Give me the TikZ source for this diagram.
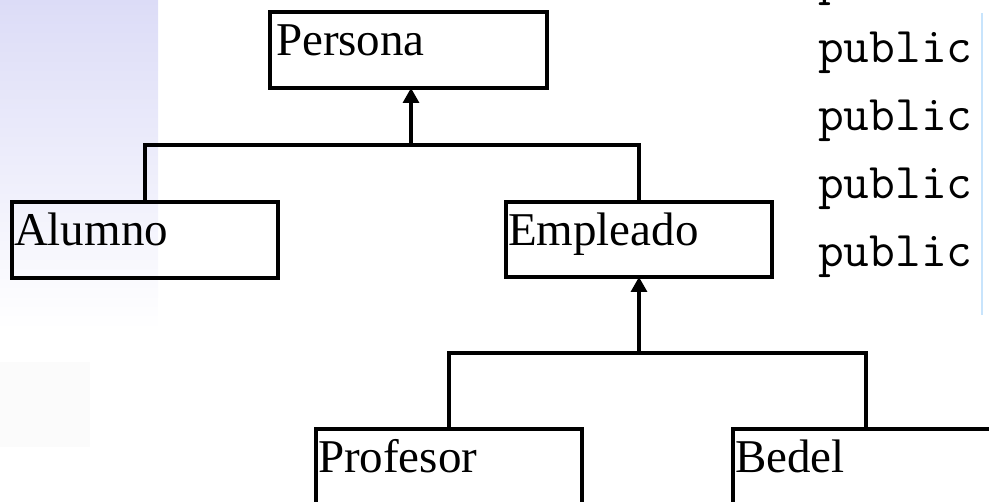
\documentclass[tikz,border=0pt]{standalone}
\usepackage{fontspec}
\setmainfont{Liberation Serif}
\usetikzlibrary{arrows.meta}
\definecolor{lav}{RGB}{220,220,247}
\definecolor{rule}{RGB}{200,228,252}
\tikzset{
  cls/.style={draw=black, line width=3.2pt, rectangle, anchor=north west,
    inner xsep=2pt, inner ysep=0pt, minimum width=266pt, minimum height=76pt,
    text width=262pt, align=left, text height=44pt, text depth=32pt, outer sep=0pt,
    font=\fontsize{47}{50}\selectfont},
  conn/.style={line width=3.2pt, draw=black},
  gen/.style={conn, -{Triangle[width=16pt,length=15pt]}},
  code/.style={anchor=base west, inner sep=0pt, font=\ttfamily\fontsize{50}{54}\selectfont}
}
\begin{document}
\begin{tikzpicture}[x=1pt,y=-1pt]
\useasboundingbox (0,0) rectangle (989,502);
\clip (0,0) rectangle (989,502);
% background
\shade[top color=lav, bottom color=white] (0,0) rectangle (158,330);
\fill[gray!3] (0,362) rectangle (90,447);
% code text on the right
\node[code] (c0) at (818,-5) {public};
\node[code] (c1) at (818,63) {public};
\node[code] (c2) at (818,131) {public};
\node[code] (c3) at (818,199) {public};
\node[code] (c4) at (818,267) {public};
\draw[rule, line width=2pt] (982,13) coordinate (r1) -- (982,315) coordinate (r2);
% classes
\node[cls, minimum width=276pt, text width=265pt, inner xsep=6pt] (persona) at (270,12) {Persona};
\node[cls] (alumno) at (12,202) {Alumno};
\node[cls, minimum height=75pt, text depth=31pt] (empleado) at (506,202) {Empleado};
\node[cls] (profesor) at (316,429) {Profesor};
\node[cls] (bedel) at (733,429) {Bedel};
% connectors
\coordinate (j1) at (411,145);
\coordinate (j2) at (639,353);
\draw[conn] (alumno.north) -- (alumno.north |- j1) -- (empleado.north |- j1) -- (empleado.north);
\draw[gen] (j1) -- (j1 |- persona.south);
\draw[conn] (profesor.north) -- (profesor.north |- j2) -- (bedel.north |- j2) -- (bedel.north);
\draw[gen] (j2) -- (j2 |- empleado.south);
\end{tikzpicture}
\end{document}
